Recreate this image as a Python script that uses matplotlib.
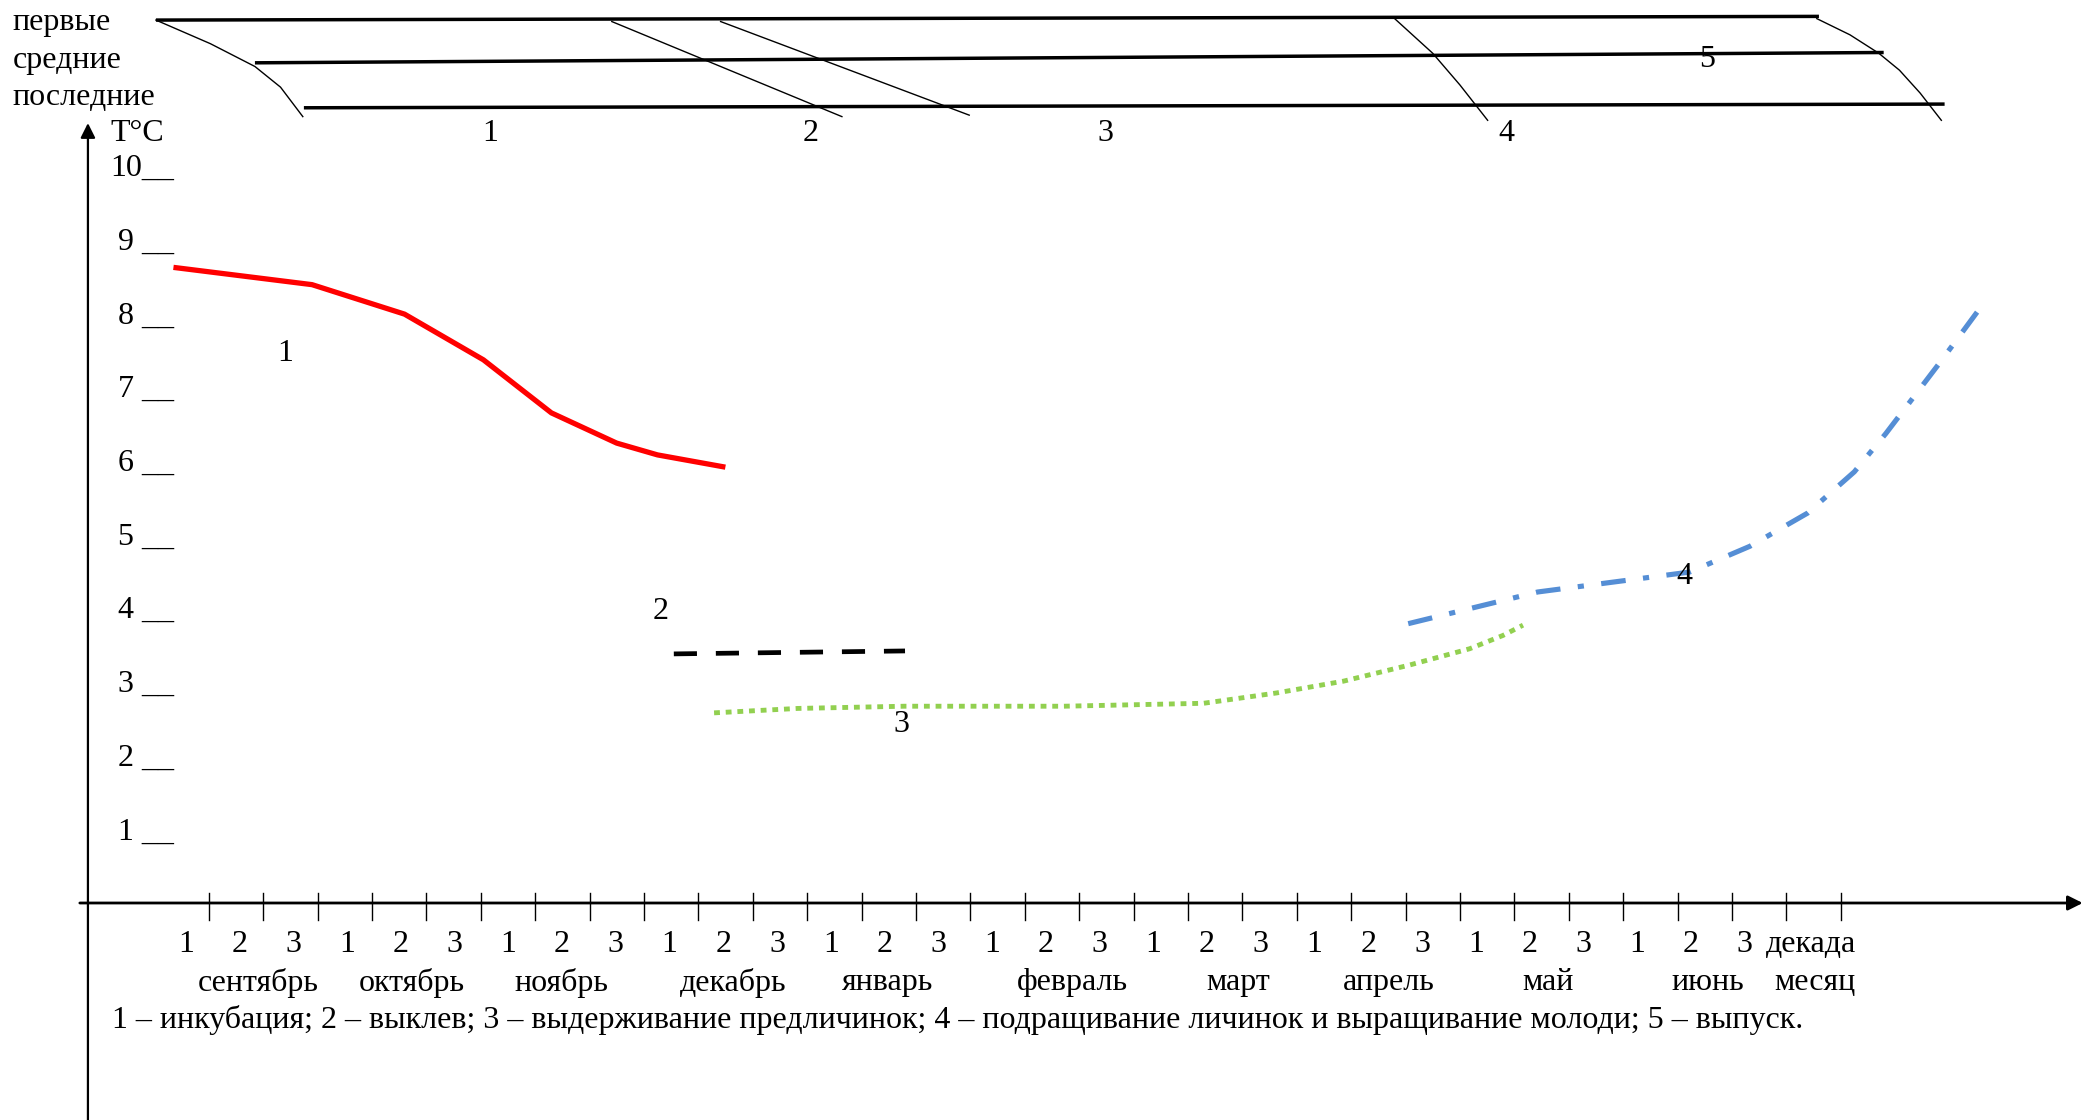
import matplotlib.pyplot as plt

plt.rcParams['font.family'] = ['Liberation Serif', 'DejaVu Serif']

# temperature curves, x = decade index from 1st decade of September
incub_x = [-0.6, 1.9, 3.6, 5.05, 6.3, 7.5, 8.25, 9.45]
incub_t = [8.62, 8.39, 7.99, 7.37, 6.65, 6.24, 6.08, 5.92]
hatch_x = [8.55, 12.8]
hatch_t = [3.38, 3.42]
prelarva_x = [9.29, 10.83, 12.79, 15.72, 18.29, 19.63, 20.86, 22.08, 23.18, 23.79, 24.16]
prelarva_t = [2.58, 2.64, 2.67, 2.67, 2.71, 2.85, 3.01, 3.23, 3.45, 3.63, 3.77]
rearing_x = [22.05, 24.43, 27.22, 28.33, 29.39, 30.25, 30.83, 31.81, 32.51]
rearing_t = [3.79, 4.22, 4.49, 4.84, 5.29, 5.85, 6.37, 7.32, 8.02]

months = ['сентябрь', 'октябрь', 'ноябрь', 'декабрь', 'январь',
          'февраль', 'март', 'апрель', 'май', 'июнь']
decades = ['1', '2', '3'] * 10
temps = list(range(1, 11))
caption = ('1 – инкубация; 2 – выклев; 3 – выдерживание предличинок; '
           '4 – подращивание личинок и выращивание молоди; 5 – выпуск.')

# schematic of stages for first / middle / last batches
batch_names = ['первые', 'средние', 'последние']
batch_x = [(-0.97, 29.6), (0.85, 30.79), (1.75, 31.91)]
batch_y = [(11.98, 12.03), (11.40, 11.54), (10.79, 10.84)]
bound_x = [[-0.97, 0.03, 0.85, 1.32, 1.73],
           [7.41, 11.64],
           [9.41, 13.98],
           [21.8, 22.5, 23.0, 23.51],
           [29.56, 30.17, 30.7, 31.08, 31.46, 31.85]]
bound_y = [[11.98, 11.66, 11.35, 11.07, 10.67],
           [11.96, 10.67],
           [11.96, 10.69],
           [12.0, 11.53, 11.1, 10.62],
           [12.0, 11.78, 11.53, 11.3, 10.99, 10.62]]
stage_x = [5.18, 11.07, 16.49, 23.86, 27.54]
stage_y = [10.47, 10.47, 10.47, 10.47, 11.48]

# layout (pixel mapping of the original page)
W, H = 2085, 1120
px0, pxs = 208.7, 54.4
py0, pys = 903, 73.7
fs = 23
dy = -0.035  # small baseline nudge for all text
month_pos = [0.91, 3.73, 6.48, 9.65, 12.48, 15.88, 18.93, 21.70, 24.62, 27.55]

fig = plt.figure(figsize=(W / 100, H / 100), dpi=100)
ax = fig.add_axes([0, 0, 1, 1])
ax.set_xlim(-px0 / pxs, (W - px0) / pxs)
ax.set_ylim((py0 - H) / pys, py0 / pys)
ax.axis('off')


def label(x, y, s, ha='center'):
    ax.text(x, y + dy, s, fontsize=fs, ha=ha, va='center')


# axes with arrows
ax.annotate('', xy=(-2.22, 10.62), xytext=(-2.22, -3.2),
            arrowprops=dict(arrowstyle='-|>', lw=1.6, color='black', mutation_scale=22))
ax.annotate('', xy=(34.5, 0), xytext=(-2.42, 0),
            arrowprops=dict(arrowstyle='-|>', lw=2.0, color='black', mutation_scale=22))
for i in range(len(decades) + 1):
    ax.plot([i, i], [0.135, -0.23], color='black', lw=1.0)

label(-1.81, 10.47, 'T°C', ha='left')
for t in temps:
    lab = '10__' if t == 10 else f'{t} __'
    label(-0.64, t, lab, ha='right')

for k, d in enumerate(decades):
    label(-0.42 + 0.988 * k, -0.53, d)
label(30.28, -0.53, 'декада', ha='right')
for m, xm in zip(months, month_pos):
    label(xm, -1.045, m)
label(30.28, -1.045, 'месяц', ha='right')
label(-1.785, -1.55, caption, ha='left')

# curves
ax.plot(incub_x, incub_t, color='#FF0000', lw=3.8, solid_joinstyle='round')
ax.plot(hatch_x, hatch_t, color='black', lw=3.4, dashes=(4.9, 4.0))
ax.plot(prelarva_x, prelarva_t, color='#92D050', lw=3.5, dashes=(1.2, 1.2))
ax.plot(rearing_x, rearing_t, color='#558ED5', lw=3.7, dashes=(4.8, 3.4, 1.2, 3.4))
label(1.40, 7.49, '1')
label(8.31, 3.99, '2')
label(12.74, 2.46, '3')
label(27.13, 4.46, '4')

# schematic
for bx, by in zip(batch_x, batch_y):
    ax.plot(bx, by, color='black', lw=2.5, solid_capstyle='butt')
for name, yy in zip(batch_names, [11.98, 11.47, 10.96]):
    label(-3.6, yy, name, ha='left')
for bx, by in zip(bound_x, bound_y):
    ax.plot(bx, by, color='black', lw=1.0)
for k, (sx, sy) in enumerate(zip(stage_x, stage_y)):
    label(sx, sy, str(k + 1))

plt.savefig('out.png', dpi=100)
